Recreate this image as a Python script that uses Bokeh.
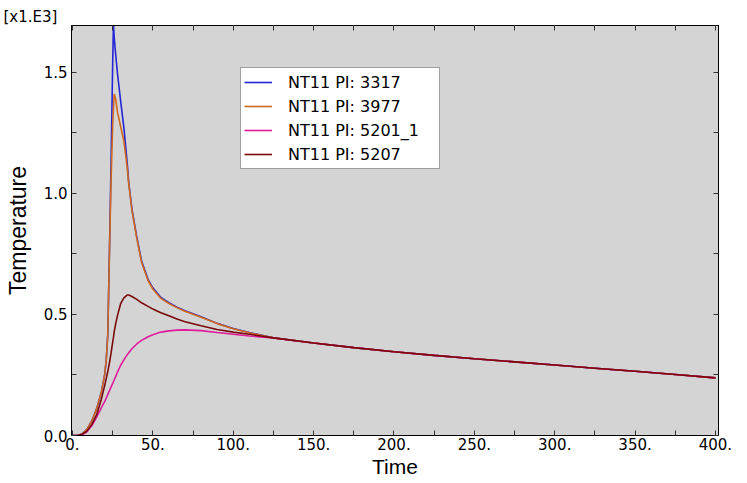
from bokeh.plotting import figure
from bokeh.models import (Legend, LegendItem, LinearAxis, FixedTicker, Range1d, Title)
from bokeh.embed import file_html
from bokeh.resources import INLINE

# ---- data (Temperature in real units; axis shows x1.E3) ----
time = [0, 3, 6, 9, 12, 15, 18, 20, 21, 22, 23, 24, 25, 25.5, 26, 27, 28, 30, 32, 34,
        35, 37, 40, 43, 47, 50, 55, 60, 65, 70, 80, 90, 100, 110, 125, 150, 175, 200, 225, 250,
        275, 300, 325, 350, 375, 400]

pi_3317 = [0, 0, 6, 25, 60, 110, 180, 250, 310, 420, 760, 1120, 1530, 1700, 1640, 1565, 1495, 1380, 1270, 1130,
           1045, 935, 820, 720, 645, 610, 570, 548, 530, 515, 490, 463, 442, 425, 403, 382, 363, 346, 331, 317,
           304, 291, 278, 265, 252, 238]

pi_3977 = [0, 0, 6, 25, 60, 110, 180, 250, 310, 420, 750, 1050, 1280, 1350, 1410, 1385, 1335, 1275, 1215, 1110,
           1040, 930, 815, 715, 640, 605, 566, 545, 528, 513, 488, 462, 441, 424, 403, 382, 363, 346, 331, 317,
           304, 291, 278, 265, 252, 238]

pi_5201_1 = [0, 0, 3, 15, 40, 75, 115, 140, 155, 170, 185, 200, 215, 222, 230, 245, 262, 290, 312, 333,
             342, 358, 378, 393, 408, 416, 427, 432, 435, 436, 433, 425, 418, 411, 403, 382, 363, 346, 331, 317,
             304, 291, 278, 265, 252, 238]

pi_5207 = [0, 0, 5, 18, 45, 85, 150, 205, 235, 265, 300, 340, 385, 405, 430, 465, 495, 545, 568, 580,
           580, 574, 562, 548, 533, 522, 507, 494, 481, 470, 453, 438, 427, 418, 403, 382, 363, 346, 331, 317,
           304, 291, 278, 265, 252, 238]

series_names = ["NT11 PI: 3317", "NT11 PI: 3977", "NT11 PI: 5201_1", "NT11 PI: 5207"]
series_values = [pi_3317, pi_3977, pi_5201_1, pi_5207]
series_colors = ["#2424d8", "#d0691c", "#e01a9c", "#7a0a0a"]

x_ticks = [0, 50, 100, 150, 200, 250, 300, 350, 400]
x_minor = [25, 75, 125, 175, 225, 275, 325, 375]
x_labels = ["0.", "50.", "100.", "150.", "200.", "250.", "300.", "350.", "400."]
y_ticks = [0, 500, 1000, 1500]
y_minor = [250, 750, 1250]
y_labels = ["0.0", "0.5", "1.0", "1.5"]

TICK_FONT = "DejaVu Sans"

p = figure(width=747, height=483, output_backend="svg", toolbar_location=None,
           x_range=Range1d(-0.6, 401.9), y_range=Range1d(0, 1693),
           min_border_left=71, min_border_right=29, min_border_top=25, min_border_bottom=48)
p.background_fill_color = "#d4d4d4"
p.border_fill_color = "white"
p.grid.visible = False
p.outline_line_color = "black"
p.outline_line_width = 1

def style_axis(ax, ticks, minor, labels=None):
    ax.ticker = FixedTicker(ticks=ticks, minor_ticks=minor)
    ax.axis_line_color = "black"
    ax.major_tick_in = 5
    ax.major_tick_out = 0
    ax.minor_tick_in = 5
    ax.minor_tick_out = 0
    ax.major_tick_line_color = "#333333"
    ax.minor_tick_line_color = "#333333"
    if labels is not None:
        ax.major_label_overrides = {t: l for t, l in zip(ticks, labels)}
        ax.major_label_text_font = TICK_FONT
        ax.major_label_text_font_size = "15px"
        ax.major_label_text_color = "black"
    else:
        ax.major_label_overrides = {t: "" for t in ticks}
        ax.major_label_text_color = None
        ax.major_label_standoff = 0

xa = p.xaxis[0]
style_axis(xa, x_ticks, x_minor, x_labels)
xa.major_label_standoff = 2
xa.axis_label = "Time"
xa.axis_label_text_font = "Liberation Sans"
xa.axis_label_text_font_size = "21px"
xa.axis_label_text_font_style = "normal"
xa.axis_label_text_color = "black"
xa.axis_label_standoff = 2

ya = p.yaxis[0]
style_axis(ya, y_ticks, y_minor, y_labels)
ya.major_label_standoff = 4
ya.axis_label = "Temperature"
ya.axis_label_text_font = "Liberation Sans"
ya.axis_label_text_font_size = "23px"
ya.axis_label_text_font_style = "normal"
ya.axis_label_text_color = "black"
ya.axis_label_standoff = 10

ra = LinearAxis()
style_axis(ra, y_ticks, y_minor)
p.add_layout(ra, "right")
ta = LinearAxis()
style_axis(ta, x_ticks, x_minor)
p.add_layout(ta, "above")

scale_title = Title(text="[x1.E3]", align="left", offset=-68, text_font=TICK_FONT,
                    text_font_size="15px", text_font_style="normal", text_color="black",
                    standoff=0)
p.add_layout(scale_title, "above")

renderers = []
for name, vals, col in zip(series_names, series_values, series_colors):
    r = p.line(time, vals, line_color=col, line_width=1.6)
    renderers.append(r)

legend = Legend(items=[LegendItem(label=n, renderers=[r]) for n, r in zip(series_names, renderers)],
                location=(169, 266))
legend.border_line_color = "#404040"
legend.border_line_width = 1
legend.background_fill_color = "white"
legend.background_fill_alpha = 1
legend.label_text_font = TICK_FONT
legend.label_text_font_size = "16px"
legend.label_text_color = "black"
legend.label_width = 148
legend.glyph_width = 28
legend.glyph_height = 22
legend.label_height = 22
legend.spacing = 2
legend.padding = 3
legend.margin = 0
legend.label_standoff = 16
p.add_layout(legend)

open("out.html", "w").write(file_html(p, INLINE))
